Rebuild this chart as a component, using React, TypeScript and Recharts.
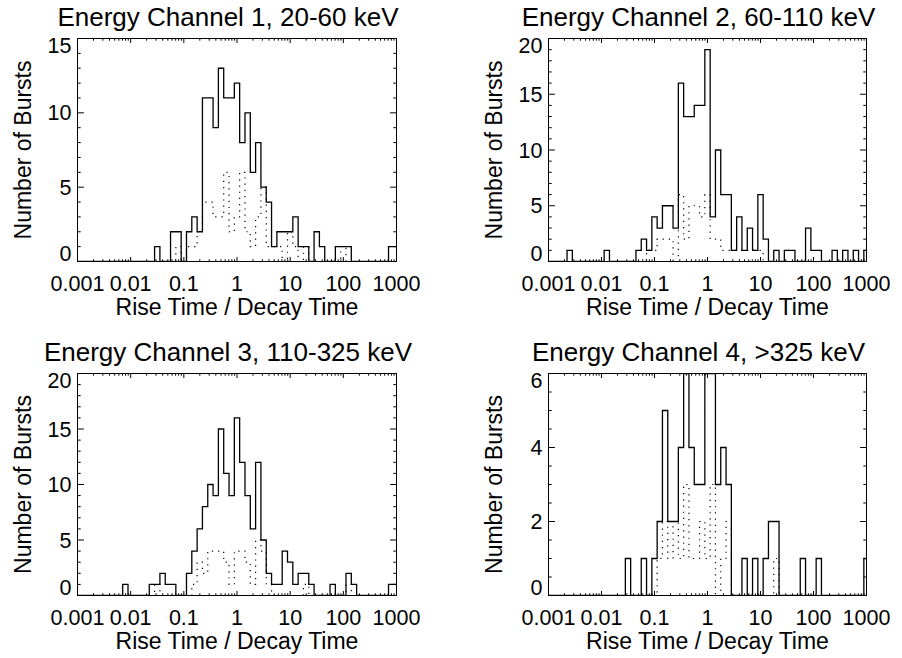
import React from 'react';
import { LineChart, Line, XAxis, YAxis } from 'recharts';

const FONT = '"Liberation Sans", Arial, Helvetica, sans-serif';

// log10(rise/decay) bin centres, 0.1 decade bins
const logRatioBins = [
  -3.0, -2.9, -2.8, -2.7, -2.6, -2.5, -2.4, -2.3, -2.2, -2.1,
  -2.0, -1.9, -1.8, -1.7, -1.6, -1.5, -1.4, -1.3, -1.2, -1.1,
  -1.0, -0.9, -0.8, -0.7, -0.6, -0.5, -0.4, -0.3, -0.2, -0.1,
  0.0, 0.1, 0.2, 0.3, 0.4, 0.5, 0.6, 0.7, 0.8, 0.9,
  1.0, 1.1, 1.2, 1.3, 1.4, 1.5, 1.6, 1.7, 1.8, 1.9,
  2.0, 2.1, 2.2, 2.3, 2.4, 2.5, 2.6, 2.7, 2.8, 2.9,
  3.0,
];

const xTickValues = [-3, -2, -1, 0, 1, 2, 3];
const xTickLabels = ['0.001', '0.01', '0.1', '1', '10', '100', '1000'];

// Channel 1
const ch1All = [
  0, 0, 0, 0, 0, 0, 0, 0, 0, 0,
  0, 0, 0, 0, 0, 1, 0, 0, 2, 2,
  0, 2, 3, 2, 11, 11, 9, 13, 11, 11,
  12, 8, 10, 6, 8, 5, 4, 1, 2, 2,
  2, 3, 1, 1, 0, 2, 1, 0, 0, 1,
  1, 1, 0, 0, 0, 0, 0, 0, 0, 1,
  1,
];
const ch1Sub = [
  0, 0, 0, 0, 0, 0, 0, 0, 0, 0,
  0, 0, 0, 0, 0, 0, 0, 0, 0, 1,
  0, 1, 1, 2, 4, 4, 3, 3, 6, 2,
  3, 6, 2, 1, 3, 5, 1, 1, 1, 0,
  2, 1, 0, 1, 0, 0, 0, 0, 0, 0,
  1, 0, 0, 0, 0, 0, 0, 0, 0, 0,
  0,
];

// Channel 2
const ch2All = [
  0, 0, 0, 0, 1, 0, 0, 0, 0, 0,
  0, 1, 0, 0, 0, 0, 0, 1, 2, 1,
  4, 3, 5, 5, 3, 16, 13, 13, 14, 14,
  19, 4, 10, 6, 6, 1, 4, 1, 3, 1,
  6, 2, 0, 1, 0, 1, 1, 0, 0, 3,
  1, 1, 0, 0, 1, 0, 1, 0, 1, 0,
  1,
];
const ch2Sub = [
  0, 0, 0, 0, 0, 0, 0, 0, 0, 0,
  0, 0, 0, 0, 0, 0, 0, 0, 0, 1,
  1, 2, 2, 2, 0, 6, 2, 5, 5, 4,
  6, 2, 2, 1, 1, 1, 1, 1, 1, 1,
  1, 0, 0, 0, 0, 0, 0, 0, 0, 0,
  0, 0, 0, 0, 0, 0, 0, 0, 0, 0,
  0,
];

// Channel 3
const ch3All = [
  0, 0, 0, 0, 0, 0, 0, 0, 0, 1,
  0, 0, 0, 0, 1, 1, 2, 1, 1, 0,
  0, 2, 4, 6, 8, 10, 9, 15, 11, 9,
  16, 12, 9, 6, 12, 5, 2, 1, 1, 4,
  3, 1, 2, 2, 1, 0, 0, 0, 1, 0,
  0, 2, 1, 0, 0, 0, 0, 0, 0, 1,
  1,
];
const ch3Sub = [
  0, 0, 0, 0, 0, 0, 0, 0, 0, 0,
  0, 0, 0, 0, 0, 1, 0, 0, 0, 0,
  0, 0, 1, 3, 2, 4, 4, 4, 3, 1,
  4, 4, 3, 1, 5, 4, 1, 0, 0, 0,
  0, 0, 0, 1, 0, 0, 0, 0, 0, 0,
  0, 1, 0, 0, 0, 0, 0, 0, 0, 0,
  0,
];

// Channel 4
const ch4All = [
  0, 0, 0, 0, 0, 0, 0, 0, 0, 0,
  0, 0, 0, 0, 0, 1, 0, 0, 1, 0,
  1, 2, 5, 2, 2, 4, 6, 4, 3, 3,
  6, 6, 3, 4, 3, 0, 0, 1, 0, 1,
  0, 1, 2, 2, 0, 0, 0, 0, 1, 0,
  0, 1, 0, 0, 0, 0, 0, 0, 0, 0,
  1,
];
const ch4Sub = [
  0, 0, 0, 0, 0, 0, 0, 0, 0, 0,
  0, 0, 0, 0, 0, 0, 0, 0, 0, 0,
  0, 1, 2, 1, 2, 1, 3, 1, 1, 2,
  1, 3, 0, 1, 2, 0, 0, 0, 0, 0,
  0, 0, 0, 1, 0, 0, 0, 0, 0, 0,
  0, 0, 0, 0, 0, 0, 0, 0, 0, 0,
  0,
];

const yMajor15 = [0, 5, 10, 15];
const yMinor15 = [1, 2, 3, 4, 6, 7, 8, 9, 11, 12, 13, 14];
const yMajor20 = [0, 5, 10, 15, 20];
const yMinor20 = [1, 2, 3, 4, 6, 7, 8, 9, 11, 12, 13, 14, 16, 17, 18, 19];
const yMajor6 = [0, 2, 4, 6];
const yMinor6 = [0.5, 1, 1.5, 2.5, 3, 3.5, 4.5, 5, 5.5];

const minorMultipliers = [2, 3, 4, 5, 6, 7, 8, 9];
const xMinorTicks: number[] = [];
for (let d = -3; d < 3; d++) {
  for (const m of minorMultipliers) xMinorTicks.push(d + Math.log10(m));
}
const xAllTicks = [...xTickValues, ...xMinorTicks].sort((a, b) => a - b);

const XTITLE_TEXT = 'Rise Time / Decay Time';
const YTITLE_TEXT = 'Number of Bursts';

const panels = [
  {
    title: 'Energy Channel 1, 20-60 keV', all: ch1All, sub: ch1Sub, yMax: 15,
    yMajor: yMajor15, yMinor: yMinor15, left: 0, top: 0,
    margin: { top: 37.5, right: 53.5, bottom: 66.5, left: 76.5 },
  },
  {
    title: 'Energy Channel 2, 60-110 keV', all: ch2All, sub: ch2Sub, yMax: 20,
    yMajor: yMajor20, yMinor: yMinor20, left: 451, top: 0,
    margin: { top: 37.5, right: 34.5, bottom: 66.5, left: 96.5 },
  },
  {
    title: 'Energy Channel 3, 110-325 keV', all: ch3All, sub: ch3Sub, yMax: 20,
    yMajor: yMajor20, yMinor: yMinor20, left: 0, top: 329,
    margin: { top: 43.5, right: 53.5, bottom: 61.5, left: 76.5 },
  },
  {
    title: 'Energy Channel 4, >325 keV', all: ch4All, sub: ch4Sub, yMax: 6,
    yMajor: yMajor6, yMinor: yMinor6, left: 451, top: 329,
    margin: { top: 43.5, right: 34.5, bottom: 61.5, left: 96.5 },
  },
];

const AX = { stroke: '#000', strokeWidth: 1 };

const isMajorX = (v: number) => xTickValues.some((t) => Math.abs(t - v) < 1e-9);
const fmtX = (v: number) => {
  const i = xTickValues.findIndex((t) => Math.abs(t - v) < 1e-9);
  return i >= 0 ? xTickLabels[i] : '';
};

const getVB = (props: any) => props.viewBox ?? { x: props.x, y: props.y, width: props.width, height: props.height };

const titleContent = (text: string) => (props: any) => {
  const vb = getVB(props);
  const plotTop = vb.y + vb.height;
  return (
    <text x={vb.x + vb.width / 2 - 9} y={plotTop - 13} textAnchor="middle" fill="#000" fontSize={26} fontFamily={FONT}>
      {text}
    </text>
  );
};

const xTitleContent = (props: any) => {
  const vb = getVB(props);
  return (
    <text x={vb.x + vb.width / 2} y={vb.y + 53} textAnchor="middle" fill="#000" fontSize={23} fontFamily={FONT}>
      {XTITLE_TEXT}
    </text>
  );
};

const yTitleContent = (props: any) => {
  const vb = getVB(props);
  const x = vb.x + vb.width - 46.5;
  const y = vb.y + vb.height / 2;
  return (
    <text x={x} y={y} transform={`rotate(-90, ${x}, ${y})`} textAnchor="middle" fill="#000" fontSize={23} fontFamily={FONT}>
      {YTITLE_TEXT}
    </text>
  );
};

const makeXTick = (side: 'bottom' | 'top') => (p: any) => {
  const v = p.payload.value;
  const major = isMajorX(v);
  const len = major ? 4.5 : 2.2;
  const dir = side === 'bottom' ? -1 : 1;
  return (
    <g>
      <line x1={p.x} x2={p.x} y1={p.y} y2={p.y + dir * len} stroke="#000" strokeWidth={1} />
      {side === 'bottom' && major ? (
        <text x={p.x} y={p.y + 29} textAnchor="middle" fill="#000" fontSize={21.5} fontFamily={FONT}>
          {fmtX(v)}
        </text>
      ) : null}
    </g>
  );
};

const makeYTick = (side: 'left' | 'right', majors: number[], max: number) => (p: any) => {
  const v = p.payload.value;
  const major = majors.includes(v);
  const len = major ? 6.4 : 3.2;
  const dir = side === 'left' ? 1 : -1;
  const shift = v === max ? 7 : v === 0 ? -8 : 0;
  return (
    <g>
      <line x1={p.x} x2={p.x + dir * len} y1={p.y} y2={p.y} stroke="#000" strokeWidth={1} />
      {side === 'left' && major ? (
        <text x={p.x - 6} y={p.y + shift} dy="0.355em" textAnchor="end" fill="#000" fontSize={21.5} fontFamily={FONT}>
          {v}
        </text>
      ) : null}
    </g>
  );
};

function Panel({ cfg }: { cfg: any }) {
  const data = logRatioBins.map((x, i) => ({ x, all: cfg.all[i], sub: cfg.sub[i] }));
  const xDomain: [number, number] = [-3, 3];
  const yDomain: [number, number] = [0, cfg.yMax];
  const yTicks = [...cfg.yMajor, ...cfg.yMinor].sort((a: number, b: number) => a - b);
  return (
    <div style={{ position: 'absolute', left: cfg.left, top: cfg.top, width: 451, height: 329 }}>
      <LineChart width={451} height={329} data={data} margin={cfg.margin}>
        <XAxis xAxisId="b" dataKey="x" type="number" domain={xDomain} allowDataOverflow ticks={xAllTicks}
          interval={0} tickSize={0} tickMargin={0} height={1} axisLine={AX} tickLine={false}
          tick={makeXTick('bottom')} label={{ content: xTitleContent }} />
        <XAxis xAxisId="t" dataKey="x" orientation="top" type="number" domain={xDomain} allowDataOverflow
          ticks={xAllTicks} interval={0} tickSize={0} tickMargin={0} height={1} axisLine={AX} tickLine={false}
          tick={makeXTick('top')} label={{ content: titleContent(cfg.title) }} />
        <YAxis yAxisId="l" type="number" domain={yDomain} allowDataOverflow ticks={yTicks} interval={0}
          tickSize={0} tickMargin={0} width={1} axisLine={AX} tickLine={false}
          tick={makeYTick('left', cfg.yMajor, cfg.yMax)} label={{ content: yTitleContent }} />
        <YAxis yAxisId="r" orientation="right" type="number" domain={yDomain} allowDataOverflow ticks={yTicks}
          interval={0} tickSize={0} tickMargin={0} width={1} axisLine={AX} tickLine={false}
          tick={makeYTick('right', cfg.yMajor, cfg.yMax)} />
        <Line xAxisId="b" yAxisId="l" type="step" dataKey="sub" stroke="#000" strokeWidth={1.2}
          strokeDasharray="1.2 5" dot={false} activeDot={false} isAnimationActive={false} />
        <Line xAxisId="b" yAxisId="l" type="step" dataKey="all" stroke="#000" strokeWidth={1.3}
          dot={false} activeDot={false} isAnimationActive={false} />
      </LineChart>
    </div>
  );
}

export default function App() {
  return (
    <div style={{ position: 'absolute', left: 0, top: 0, width: 902, height: 658, background: '#fff' }}>
      {panels.map((cfg) => (
        <Panel key={cfg.title} cfg={cfg} />
      ))}
    </div>
  );
}
